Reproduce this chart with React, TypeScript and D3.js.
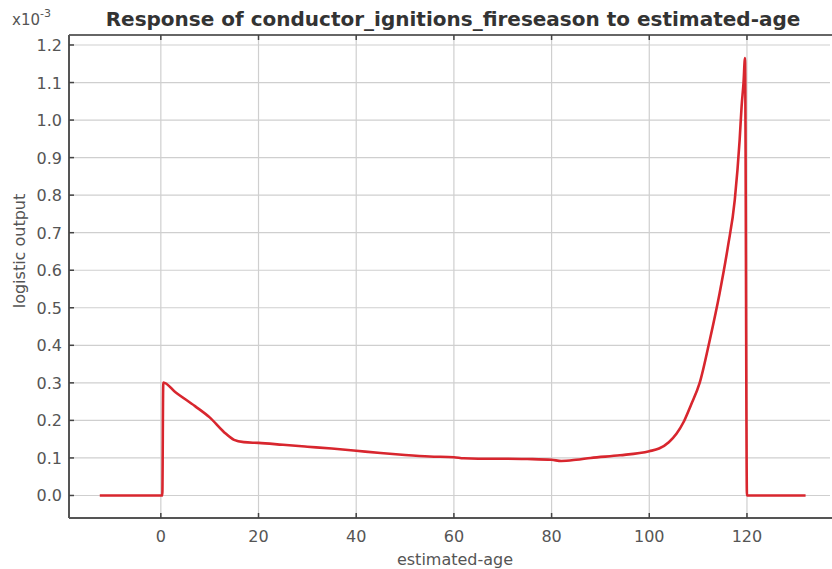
import React from "react";
import * as d3 from "d3";

const ages: number[] = [-12.5, 0.3, 0.5, 3, 7, 10, 13, 15, 17, 20, 25, 30, 35, 40, 45, 50, 55, 60, 62, 65, 70, 75, 80, 82, 85, 88, 94, 100, 102, 104, 105.6, 107, 108.5, 110.3, 112.4, 114.4, 116.1, 117.5, 118.5, 118.9, 119.3, 119.6, 120.0, 132];
const outputs: number[] = [0, 0, 0.301, 0.275, 0.238, 0.208, 0.168, 0.148, 0.142, 0.14, 0.135, 0.13, 0.125, 0.119, 0.113, 0.108, 0.104, 0.102, 0.099, 0.098, 0.098, 0.097, 0.095, 0.092, 0.095, 0.1, 0.107, 0.118, 0.125, 0.142, 0.165, 0.195, 0.24, 0.299, 0.415, 0.539, 0.663, 0.787, 0.947, 1.036, 1.1, 1.165, 0, 0];
const xTicks: number[] = [0, 20, 40, 60, 80, 100, 120];
const yTicks: number[] = [0, 0.1, 0.2, 0.3, 0.4, 0.5, 0.6, 0.7, 0.8, 0.9, 1.0, 1.1, 1.2];
const title = "Response of conductor_ignitions_fireseason to estimated-age";
const xLabel = "estimated-age";
const yLabel = "logistic output";

const W = 832, H = 569;
const L = 69, R = 830, T = 35, B = 518;

export default function App() {
  const x = d3.scaleLinear().domain([-18.8, 137]).range([L, R]);
  const y = d3.scaleLinear().domain([-0.06, 1.2266]).range([B, T]);
  const pts: [number, number][] = ages.map((a, i) => [a, outputs[i]]);
  const line = d3.line<[number, number]>().x(d => x(d[0])).y(d => y(d[1])).curve(d3.curveMonotoneX);
  const font = "DejaVu Sans, sans-serif";
  return (
    <svg width={W} height={H} style={{ position: "absolute", left: 0, top: 0, background: "#fff" }} fontFamily={font}>
      <rect x={0} y={0} width={W} height={H} fill="#fff" />
      {xTicks.map(t => (
        <line key={"gx" + t} x1={x(t)} x2={x(t)} y1={T} y2={B} stroke="#cfcfcf" strokeWidth={1.2} />
      ))}
      {yTicks.map(t => (
        <line key={"gy" + t} x1={L} x2={R} y1={y(t)} y2={y(t)} stroke="#cfcfcf" strokeWidth={1.2} />
      ))}
      <path d={line(pts) || ""} fill="none" stroke="#d8262e" strokeWidth={2.6} strokeLinejoin="round" />
      <line x1={L} x2={R + 2} y1={T} y2={T} stroke="#666" strokeWidth={2} />
      <line x1={L} x2={R + 2} y1={B} y2={B} stroke="#555" strokeWidth={2} />
      <line x1={L} x2={L} y1={T} y2={B} stroke="#555" strokeWidth={2} />
      {xTicks.map(t => (
        <g key={"tx" + t}>
          <line x1={x(t)} x2={x(t)} y1={B} y2={B - 5} stroke="#444" strokeWidth={1.5} />
          <line x1={x(t)} x2={x(t)} y1={T} y2={T + 5} stroke="#444" strokeWidth={1.5} />
          <text x={x(t)} y={B + 24} textAnchor="middle" fontSize={16} fill="#555">{t}</text>
        </g>
      ))}
      {yTicks.map(t => (
        <g key={"ty" + t}>
          <line x1={L} x2={L + 5} y1={y(t)} y2={y(t)} stroke="#444" strokeWidth={1.5} />
          <text x={L - 7} y={y(t) + 6} textAnchor="end" fontSize={16} fill="#555">{t.toFixed(1)}</text>
        </g>
      ))}
      <text x={455} y={565} textAnchor="middle" fontSize={16} fill="#555">{xLabel}</text>
      <text transform={`translate(25, 251) rotate(-90)`} textAnchor="middle" fontSize={16} fill="#555">{yLabel}</text>
      <text x={12} y={25} fontSize={15} fill="#555">x10<tspan dy={-8} fontSize={11}>-3</tspan></text>
      <text x={453} y={26} textAnchor="middle" fontSize={20} fontWeight="bold" fill="#333">{title}</text>
    </svg>
  );
}
